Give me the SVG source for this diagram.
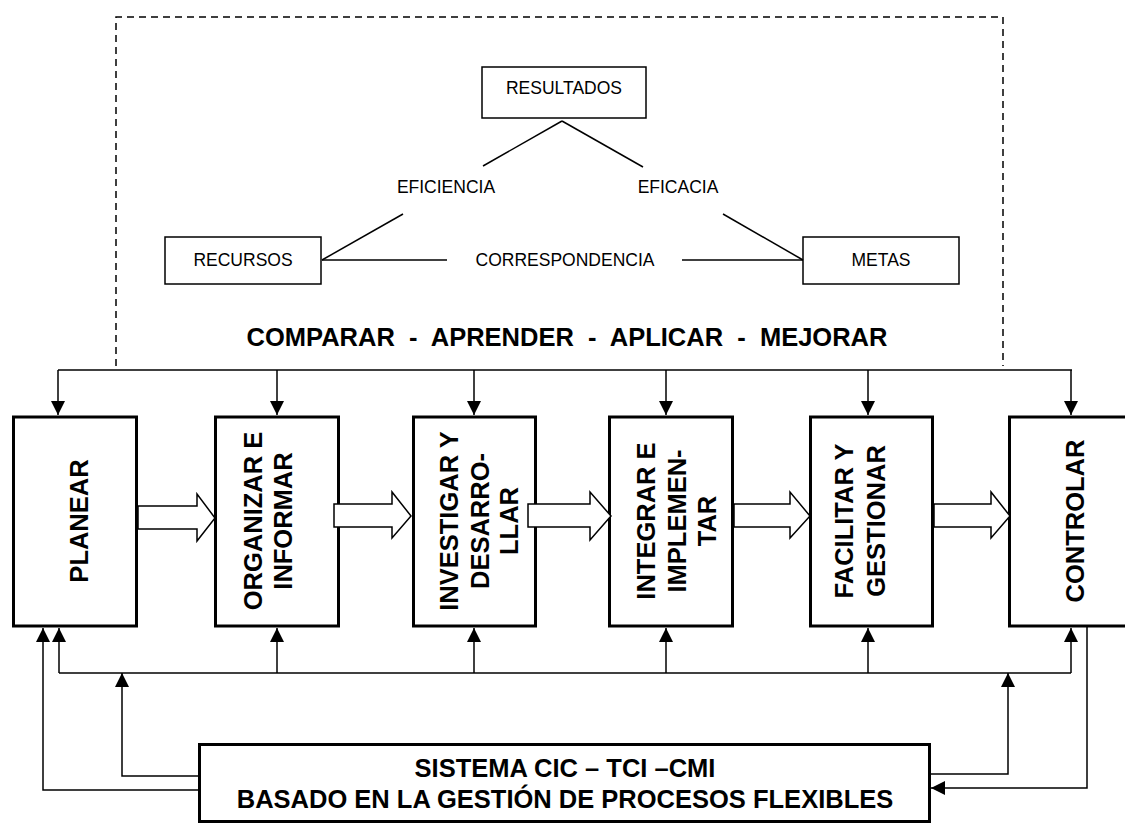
<svg xmlns="http://www.w3.org/2000/svg" width="1125" height="824" viewBox="0 0 1125 824">
  <style>
    .bg { fill: #ffffff; }
    .small { font-family: "Liberation Sans", Arial, sans-serif; font-size: 17.5px; fill: #000; }
    .big { font-family: "Liberation Sans", Arial, sans-serif; font-size: 25.5px; font-weight: bold; fill: #000; }
    .thin { fill: #fff; stroke: #000; stroke-width: 1.5; }
    .step { fill: #fff; stroke: #000; stroke-width: 3; }
    .wire { fill: none; stroke: #000; stroke-width: 1.5; }
    .dash { fill: none; stroke: #000; stroke-width: 1.5; stroke-dasharray: 7 5; }
    .block { fill: #fff; stroke: #000; stroke-width: 1.5; stroke-linejoin: miter; }
  </style>
  <defs>
    <marker id="head" markerUnits="userSpaceOnUse" markerWidth="14" markerHeight="14" refX="14" refY="7" orient="auto">
      <path d="M0,0 L14,7 L0,14 Z" fill="#000"/>
    </marker>
  </defs>

  <rect class="bg" x="0" y="0" width="1125" height="824"/>

  <!-- Improvement cycle frame (open at the bottom) -->
  <path class="dash" d="M116,366 V17 H1003 V366"/>

  <!-- Result triangle -->
  <g id="resultados">
    <rect class="thin" x="482" y="67" width="164" height="51"/>
    <text class="small" x="564" y="94" text-anchor="middle">RESULTADOS</text>
  </g>
  <g id="recursos">
    <rect class="thin" x="165" y="237" width="156" height="47"/>
    <text class="small" x="243" y="266" text-anchor="middle">RECURSOS</text>
  </g>
  <g id="metas">
    <rect class="thin" x="803" y="237" width="156" height="47"/>
    <text class="small" x="881" y="266" text-anchor="middle">METAS</text>
  </g>
  <g id="triangle-labels">
    <text class="small" x="446" y="193" text-anchor="middle">EFICIENCIA</text>
    <text class="small" x="678" y="193" text-anchor="middle">EFICACIA</text>
    <text class="small" x="565" y="266" text-anchor="middle">CORRESPONDENCIA</text>
  </g>
  <g id="triangle-lines" class="wire">
    <line x1="562" y1="121" x2="483" y2="166"/>
    <line x1="562" y1="121" x2="643" y2="167"/>
    <line x1="403" y1="214" x2="322" y2="260"/>
    <line x1="723" y1="214" x2="803" y2="260"/>
    <line x1="322" y1="260" x2="447" y2="260"/>
    <line x1="682" y1="260" x2="803" y2="260"/>
  </g>

  <text class="big" x="567" y="346" text-anchor="middle" xml:space="preserve">COMPARAR  -  APRENDER  -  APLICAR  -  MEJORAR</text>

  <!-- Process steps -->
  <g id="planear">
    <rect class="step" x="13.5" y="417" width="123" height="209"/>
    <text class="big" transform="translate(88,521) rotate(-90)" text-anchor="middle">PLANEAR</text>
  </g>
  <g id="organizar">
    <rect class="step" x="215.5" y="417" width="123" height="209"/>
    <text class="big" transform="translate(262,521) rotate(-90)" text-anchor="middle">ORGANIZAR E</text>
    <text class="big" transform="translate(292,521) rotate(-90)" text-anchor="middle">INFORMAR</text>
  </g>
  <g id="investigar">
    <rect class="step" x="413.5" y="417" width="122" height="209"/>
    <text class="big" transform="translate(458,521) rotate(-90)" text-anchor="middle">INVESTIGAR Y</text>
    <text class="big" transform="translate(489,521) rotate(-90)" text-anchor="middle">DESARRO-</text>
    <text class="big" transform="translate(518,521) rotate(-90)" text-anchor="middle">LLAR</text>
  </g>
  <g id="integrar">
    <rect class="step" x="609.5" y="417" width="123" height="209"/>
    <text class="big" transform="translate(655,521) rotate(-90)" text-anchor="middle">INTEGRAR E</text>
    <text class="big" transform="translate(686,521) rotate(-90)" text-anchor="middle">IMPLEMEN-</text>
    <text class="big" transform="translate(716,521) rotate(-90)" text-anchor="middle">TAR</text>
  </g>
  <g id="facilitar">
    <rect class="step" x="810.5" y="417" width="122" height="209"/>
    <text class="big" transform="translate(853,521) rotate(-90)" text-anchor="middle">FACILITAR Y</text>
    <text class="big" transform="translate(885,521) rotate(-90)" text-anchor="middle">GESTIONAR</text>
  </g>
  <g id="controlar">
    <rect class="step" x="1009.5" y="417" width="130" height="209"/>
    <text class="big" transform="translate(1084,521) rotate(-90)" text-anchor="middle">CONTROLAR</text>
  </g>

  <!-- System box -->
  <g id="sistema">
    <rect class="step" x="199.5" y="744.5" width="730" height="77"/>
    <text class="big" x="565" y="777" text-anchor="middle">SISTEMA CIC – TCI –CMI</text>
    <text class="big" x="565" y="808" text-anchor="middle">BASADO EN LA GESTIÓN DE PROCESOS FLEXIBLES</text>
  </g>

  <!-- Connectors -->
  <g id="connectors">
    <!-- Flow between steps -->
    <g id="flow">
      <polygon class="block" points="138,506 197,506 197,494 215,518 197,541 197,529 138,529"/>
      <polygon class="block" points="334,504 392,504 392,492 411,516 392,538 392,527 334,527"/>
      <polygon class="block" points="528,504 590,504 590,492 611,516 590,540 590,527 528,527"/>
      <polygon class="block" points="734,504 790,504 790,492 810,516 790,538 790,527 734,527"/>
      <polygon class="block" points="934,504 991,504 991,492 1010,516 991,538 991,527 934,527"/>
    </g>
    <!-- Learning bus (top) -->
    <g id="top-bus" class="wire">
      <line x1="58" y1="370" x2="1072" y2="370"/>
      <line x1="58" y1="370" x2="58" y2="415" marker-end="url(#head)"/>
      <line x1="277" y1="370" x2="277" y2="415" marker-end="url(#head)"/>
      <line x1="474" y1="370" x2="474" y2="415" marker-end="url(#head)"/>
      <line x1="666" y1="370" x2="666" y2="415" marker-end="url(#head)"/>
      <line x1="868" y1="370" x2="868" y2="415" marker-end="url(#head)"/>
      <line x1="1071" y1="370" x2="1071" y2="415" marker-end="url(#head)"/>
    </g>
    <!-- Feedback bus (bottom) -->
    <g id="feedback" class="wire">
      <line x1="59" y1="673" x2="1071" y2="673"/>
      <line x1="59" y1="673" x2="59" y2="628" marker-end="url(#head)"/>
      <line x1="277" y1="673" x2="277" y2="628" marker-end="url(#head)"/>
      <line x1="474" y1="673" x2="474" y2="628" marker-end="url(#head)"/>
      <line x1="666" y1="673" x2="666" y2="628" marker-end="url(#head)"/>
      <line x1="868" y1="673" x2="868" y2="628" marker-end="url(#head)"/>
      <line x1="1071" y1="673" x2="1071" y2="628" marker-end="url(#head)"/>
    </g>
    <!-- System links -->
    <g id="system-links" class="wire">
      <polyline points="198,790 43,790 43,628" marker-end="url(#head)"/>
      <polyline points="198,776 122,776 122,673" marker-end="url(#head)"/>
      <polyline points="931,774 1008,774 1008,673" marker-end="url(#head)"/>
      <polyline points="1087,627 1087,788 931,788" marker-end="url(#head)"/>
    </g>
  </g>
</svg>
